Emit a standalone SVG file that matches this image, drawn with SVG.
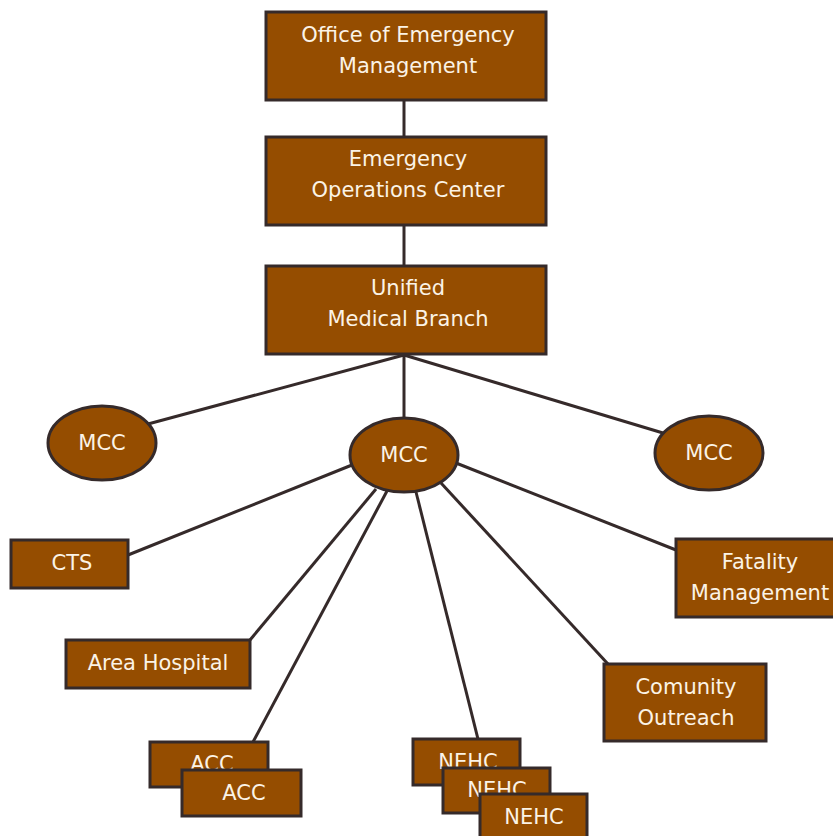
<svg xmlns="http://www.w3.org/2000/svg" width="833" height="836" viewBox="0 0 833 836">
<style>
.n{fill:#954d00;stroke:#352a2a;stroke-width:3}
.t{font-family:"DejaVu Sans",sans-serif;font-size:21px;fill:#fbf3e6;text-anchor:middle}
.c{stroke:#352a2a;stroke-width:3;fill:none}
</style>
<rect width="833" height="836" fill="#fff"/>
<g id="connectors">
<line class="c" x1="404" y1="100" x2="404" y2="137"/>
<line class="c" x1="404" y1="225" x2="404" y2="266"/>
<line class="c" x1="404" y1="354" x2="404" y2="419"/>
<line class="c" x1="404" y1="355" x2="148" y2="424"/>
<line class="c" x1="404" y1="355" x2="663" y2="433"/>
<line class="c" x1="128" y1="555" x2="352" y2="465"/>
<line class="c" x1="250" y1="640" x2="376" y2="489"/>
<line class="c" x1="253" y1="742" x2="387" y2="491"/>
<line class="c" x1="478" y1="739" x2="416" y2="492"/>
<line class="c" x1="608" y1="664" x2="441" y2="483"/>
<line class="c" x1="676" y1="550" x2="456" y2="463"/>
</g>
<g id="oem"><rect class="n" x="266" y="12" width="280" height="88"/><text class="t" x="408" y="42">Office of Emergency</text><text class="t" x="408" y="73">Management</text></g>
<g id="eoc"><rect class="n" x="266" y="137" width="280" height="88"/><text class="t" x="408" y="166">Emergency</text><text class="t" x="408" y="197">Operations Center</text></g>
<g id="umb"><rect class="n" x="266" y="266" width="280" height="88"/><text class="t" x="408" y="295">Unified</text><text class="t" x="408" y="326">Medical Branch</text></g>
<g id="mcc-left"><ellipse class="n" cx="102" cy="443" rx="54" ry="37"/><text class="t" x="102" y="450">MCC</text></g>
<g id="mcc-center"><ellipse class="n" cx="404" cy="455" rx="54" ry="37"/><text class="t" x="404" y="462">MCC</text></g>
<g id="mcc-right"><ellipse class="n" cx="709" cy="453" rx="54" ry="37"/><text class="t" x="709" y="460">MCC</text></g>
<g id="cts"><rect class="n" x="11" y="540" width="117" height="48"/><text class="t" x="72" y="570">CTS</text></g>
<g id="area-hospital"><rect class="n" x="66" y="640" width="184" height="48"/><text class="t" x="158" y="670">Area Hospital</text></g>
<g id="acc1"><rect class="n" x="150" y="742" width="118" height="45"/><text class="t" x="212" y="771">ACC</text></g>
<g id="acc2"><rect class="n" x="182" y="770" width="119" height="46"/><text class="t" x="244" y="800">ACC</text></g>
<g id="nehc1"><rect class="n" x="413" y="739" width="107" height="46"/><text class="t" x="468" y="769">NEHC</text></g>
<g id="nehc2"><rect class="n" x="443" y="768" width="107" height="45"/><text class="t" x="497" y="797">NEHC</text></g>
<g id="nehc3"><rect class="n" x="480" y="794" width="107" height="45"/><text class="t" x="534" y="824">NEHC</text></g>
<g id="outreach"><rect class="n" x="604" y="664" width="162" height="77"/><text class="t" x="686" y="694">Comunity</text><text class="t" x="686" y="725">Outreach</text></g>
<g id="fatality"><rect class="n" x="676" y="539" width="160" height="78"/><text class="t" x="760" y="569">Fatality</text><text class="t" x="760" y="600">Management</text></g>
</svg>
